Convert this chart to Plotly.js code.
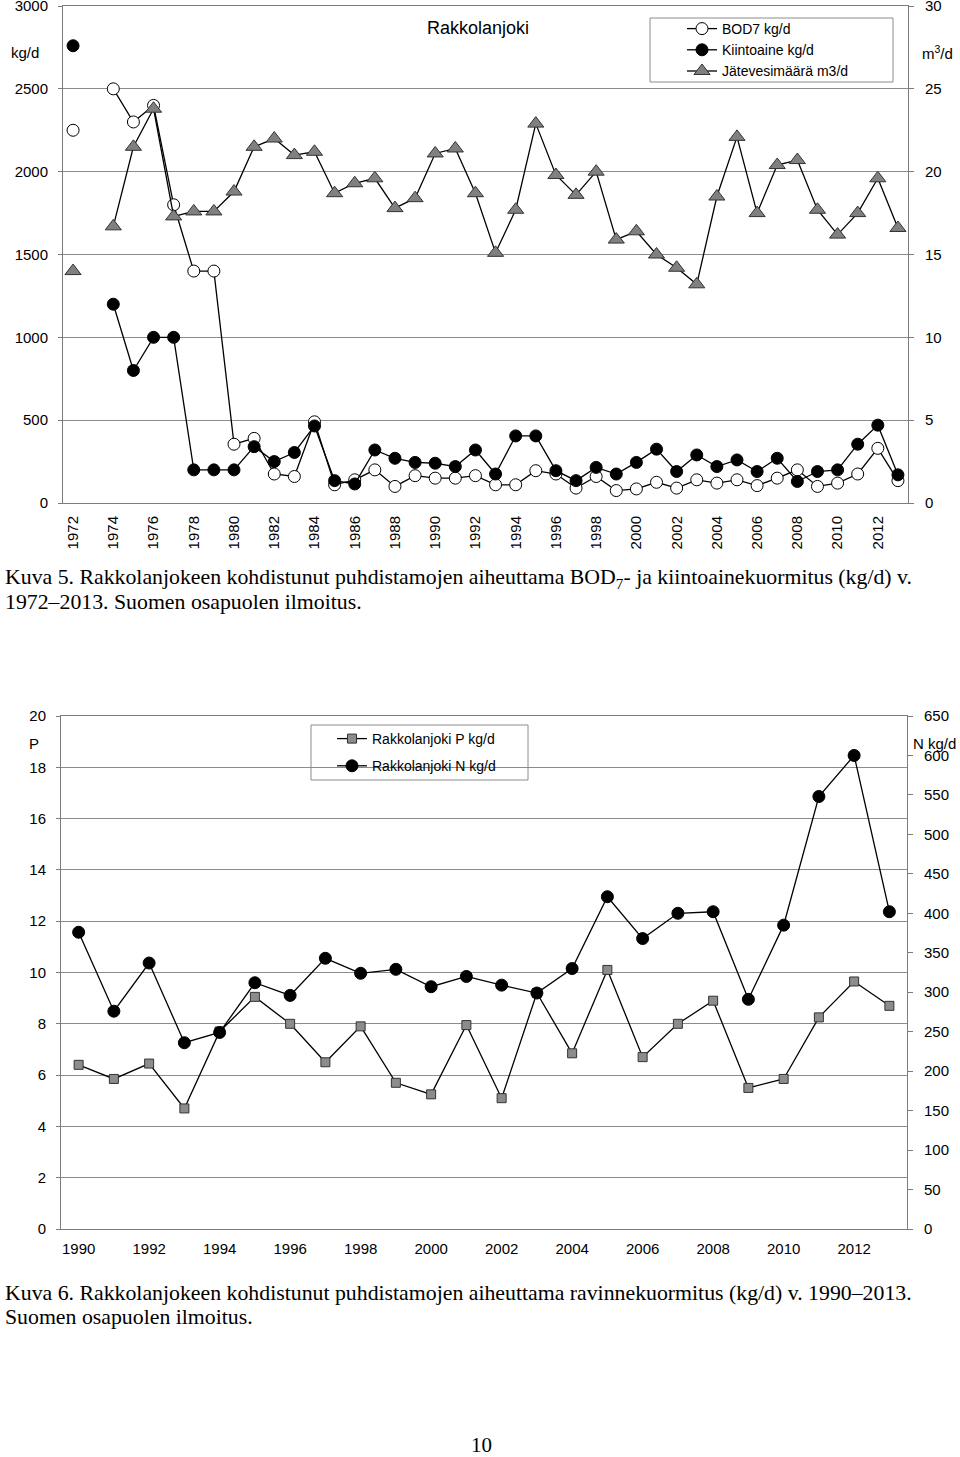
<!DOCTYPE html>
<html><head><meta charset="utf-8">
<script src="https://cdn.plot.ly/plotly-3.0.1.min.js"></script>
<style>html,body{margin:0;padding:0;background:#fff;} #chart{width:960px;height:1457px;}</style>
</head><body><div id="chart"></div>
<script>
// ---------- Data: chart 1 (Kuva 5) ----------
const years1 = [1972,1973,1974,1975,1976,1977,1978,1979,1980,1981,1982,1983,1984,1985,1986,1987,1988,1989,1990,1991,1992,1993,1994,1995,1996,1997,1998,1999,2000,2001,2002,2003,2004,2005,2006,2007,2008,2009,2010,2011,2012,2013];
const bod7 = [2250,null,2500,2300,2400,1800,1400,1400,355,390,175,160,490,110,140,200,100,165,150,150,165,110,110,195,175,90,160,75,85,125,90,140,120,140,105,150,200,100,120,175,330,135];
const kiintoaine = [2760,null,1200,800,1000,1000,200,200,200,340,250,305,465,135,115,320,270,245,240,220,320,175,405,405,195,135,215,175,245,325,190,290,220,260,190,270,130,190,200,355,470,170];
const jatevesi = [14.0,null,16.7,21.5,23.8,17.3,17.6,17.6,18.8,21.5,22.0,21.0,21.2,18.7,19.3,19.6,17.8,18.4,21.1,21.4,18.7,15.1,17.7,22.9,19.8,18.6,20.0,15.9,16.4,15.0,14.2,13.2,18.5,22.1,17.5,20.4,20.7,17.7,16.2,17.5,19.6,16.6];
const names1 = ['BOD7 kg/d','Kiintoaine kg/d','Jätevesimäärä m3/d'];
const leftTicks1 = [0,500,1000,1500,2000,2500,3000];
const rightTicks1 = [0,5,10,15,20,25,30];

// ---------- Data: chart 2 (Kuva 6) ----------
const years2 = [1990,1991,1992,1993,1994,1995,1996,1997,1998,1999,2000,2001,2002,2003,2004,2005,2006,2007,2008,2009,2010,2011,2012,2013];
const fosfori = [6.4,5.85,6.45,4.7,7.7,9.05,8.0,6.5,7.9,5.7,5.25,7.95,5.1,9.2,6.85,10.1,6.7,8.0,8.9,5.5,5.85,8.25,9.65,8.7];
const typpi = [376,276,337,236,249,312,296,343,324,329,307,320,309,299,330,421,368,400,402,291,385,548,600,402];
const names2 = ['Rakkolanjoki P kg/d','Rakkolanjoki N kg/d'];
const leftTicks2 = [0,2,4,6,8,10,12,14,16,18,20];
const rightTicks2 = [0,50,100,150,200,250,300,350,400,450,500,550,600,650];

// ---------- helpers ----------
const W = 960, H = 1457;
const px = x => x / W;
const py = y => 1 - y / H;
const SANS = 'Liberation Sans, Arial, sans-serif';
const SERIF = 'Liberation Serif, Times New Roman, serif';
const gridColor = '#8c8c8c', axisColor = '#7c7c7c';
const tickFont = {family: SANS, size: 15, color: '#000'};
const capFont = {family: SERIF, size: 21.8, color: '#000'};

const bounds = ys => ys.map(y => y - 0.5).concat([ys[ys.length - 1] + 0.5]);
const everyOther = ys => ys.filter(y => (y - ys[0]) % 2 === 0);

const labels1 = everyOther(years1).filter(y => y <= 2012);
const labels2 = everyOther(years2).filter(y => y <= 2012);

const d1x = [px(63), px(908)], d1y = [py(503), py(6)];
const d2x = [px(61), px(907)], d2y = [py(1229), py(716)];

const lineStyle = {color: '#000', width: 1.3};

const traces = [
  {x: years1, y: bod7, name: names1[0], type: 'scatter', mode: 'lines+markers', xaxis: 'x', yaxis: 'y',
   line: lineStyle, marker: {symbol: 'circle', size: 12, color: '#fff', line: {color: '#000', width: 1}},
   connectgaps: false, legend: 'legend'},
  {x: years1, y: kiintoaine, name: names1[1], type: 'scatter', mode: 'lines+markers', xaxis: 'x', yaxis: 'y',
   line: lineStyle, marker: {symbol: 'circle', size: 12, color: '#000', line: {color: '#000', width: 1}},
   connectgaps: false, legend: 'legend'},
  {x: years1, y: jatevesi, name: names1[2], type: 'scatter', mode: 'lines+markers', xaxis: 'x', yaxis: 'y2',
   line: lineStyle, marker: {symbol: 'triangle-up', size: 14, color: '#808080', line: {color: '#333', width: 1}},
   connectgaps: false, legend: 'legend'},
  {x: years2, y: fosfori, name: names2[0], type: 'scatter', mode: 'lines+markers', xaxis: 'x2', yaxis: 'y3',
   line: lineStyle, marker: {symbol: 'square', size: 9, color: '#8c8c8c', line: {color: '#333', width: 1}},
   legend: 'legend2', legendgroup: 'p'},
  {x: years2, y: typpi, name: names2[1], type: 'scatter', mode: 'lines+markers', xaxis: 'x2', yaxis: 'y4',
   line: lineStyle, marker: {symbol: 'circle', size: 12, color: '#000', line: {color: '#000', width: 1}},
   legend: 'legend2', legendgroup: 'n'}
];

const baseX = {showgrid: false, zeroline: false, fixedrange: true};
const tickAxis = (over, anchor, range, vals, dir) => Object.assign({}, baseX, {
  overlaying: over, anchor: anchor, range: range, tickmode: 'array', tickvals: vals,
  ticks: dir, ticklen: 4, tickcolor: axisColor, tickwidth: 1, showticklabels: false, showline: false
});

const r1 = [years1[0] - 0.5, years1[years1.length - 1] + 0.5];
const r2 = [years2[0] - 0.5, years2[years2.length - 1] + 0.5];

const layout = {
  width: W, height: H, margin: {l: 0, r: 0, t: 0, b: 0},
  paper_bgcolor: '#fff', plot_bgcolor: 'rgba(0,0,0,0)',
  font: {family: SANS, color: '#000'},
  showlegend: true,
  xaxis: Object.assign({}, baseX, {domain: d1x, anchor: 'y', range: r1, tickmode: 'array',
    tickvals: labels1, ticktext: labels1.map(String), tickangle: -90, ticks: '', tickfont: tickFont,
    ticklabelstandoff: 6, showline: true, linecolor: axisColor, linewidth: 1, mirror: true}),
  xaxis3: tickAxis('x', 'y', r1, bounds(years1), 'outside'),
  xaxis4: tickAxis('x', 'y', r1, bounds(years1), 'inside'),
  yaxis: {domain: d1y, anchor: 'x', range: [0, 3000], tickmode: 'array', tickvals: leftTicks1,
    showgrid: true, gridcolor: gridColor, gridwidth: 1, zeroline: false, showline: true, linecolor: axisColor,
    ticks: 'outside', ticklen: 4, tickcolor: axisColor, tickfont: tickFont, ticklabelstandoff: 7,
    ticklabeloverflow: 'allow', fixedrange: true},
  yaxis2: {overlaying: 'y', side: 'right', anchor: 'x', range: [0, 30], tickmode: 'array', tickvals: rightTicks1,
    showgrid: false, zeroline: false, showline: true, linecolor: axisColor, ticks: 'outside', ticklen: 5,
    tickcolor: axisColor, tickfont: tickFont, ticklabelstandoff: 8, ticklabeloverflow: 'allow', fixedrange: true},

  xaxis2: Object.assign({}, baseX, {domain: d2x, anchor: 'y3', range: r2, tickmode: 'array',
    tickvals: labels2, ticktext: labels2.map(String), ticks: '', tickfont: tickFont,
    ticklabelstandoff: 6, showline: true, linecolor: axisColor, linewidth: 1, mirror: true}),
  xaxis5: tickAxis('x2', 'y3', r2, bounds(years2), 'outside'),
  xaxis6: tickAxis('x2', 'y3', r2, bounds(years2), 'inside'),
  yaxis3: {domain: d2y, anchor: 'x2', range: [0, 20], tickmode: 'array', tickvals: leftTicks2,
    showgrid: true, gridcolor: gridColor, gridwidth: 1, zeroline: false, showline: true, linecolor: axisColor,
    ticks: 'outside', ticklen: 4, tickcolor: axisColor, tickfont: tickFont, ticklabelstandoff: 7,
    ticklabeloverflow: 'allow', fixedrange: true},
  yaxis4: {overlaying: 'y3', side: 'right', anchor: 'x2', range: [0, 650], tickmode: 'array', tickvals: rightTicks2,
    showgrid: false, zeroline: false, showline: true, linecolor: axisColor, ticks: 'outside', ticklen: 5,
    tickcolor: axisColor, tickfont: tickFont, ticklabelstandoff: 8, ticklabeloverflow: 'allow', fixedrange: true},

  legend: {x: px(682), y: py(13), xanchor: 'left', yanchor: 'top', bgcolor: 'rgba(0,0,0,0)', borderwidth: 0,
    font: {family: SANS, size: 14, color: '#000'}},
  legend2: {x: px(332), y: py(723), xanchor: 'left', yanchor: 'top', bgcolor: 'rgba(0,0,0,0)', borderwidth: 0,
    tracegroupgap: 6, font: {family: SANS, size: 14, color: '#000'}},

  shapes: [
    {type: 'rect', xref: 'paper', yref: 'paper', x0: px(650), x1: px(893), y0: py(82), y1: py(18),
     line: {color: '#8c8c8c', width: 1}, fillcolor: 'rgba(0,0,0,0)'},
    {type: 'rect', xref: 'paper', yref: 'paper', x0: px(311), x1: px(528), y0: py(780), y1: py(725),
     line: {color: '#8c8c8c', width: 1}, fillcolor: 'rgba(0,0,0,0)'}
  ],

  annotations: [
    {text: 'Rakkolanjoki', x: px(478), y: py(28), xref: 'paper', yref: 'paper', showarrow: false,
     xanchor: 'center', yanchor: 'middle', font: {family: SANS, size: 18, color: '#000'}},
    {text: 'kg/d', x: px(9), y: py(53), xref: 'paper', yref: 'paper', showarrow: false,
     xanchor: 'left', yanchor: 'middle', font: {family: SANS, size: 15, color: '#000'}},
    {text: 'm<sup>3</sup>/d', x: px(920), y: py(53), xref: 'paper', yref: 'paper', showarrow: false,
     xanchor: 'left', yanchor: 'middle', font: {family: SANS, size: 15, color: '#000'}},
    {text: 'P', x: px(27), y: py(743), xref: 'paper', yref: 'paper', showarrow: false,
     xanchor: 'left', yanchor: 'middle', font: {family: SANS, size: 15, color: '#000'}},
    {text: 'N kg/d', x: px(911), y: py(743), xref: 'paper', yref: 'paper', showarrow: false,
     xanchor: 'left', yanchor: 'middle', font: {family: SANS, size: 15, color: '#000'}},
    {text: 'Kuva 5. Rakkolanjokeen kohdistunut puhdistamojen aiheuttama BOD<sub>7</sub>- ja kiintoainekuormitus (kg/d) v.',
     x: px(3), y: py(578), xref: 'paper', yref: 'paper', showarrow: false, xanchor: 'left', yanchor: 'middle',
     font: capFont},
    {text: '1972–2013. Suomen osapuolen ilmoitus.', x: px(3), y: py(602), xref: 'paper', yref: 'paper',
     showarrow: false, xanchor: 'left', yanchor: 'middle', font: capFont},
    {text: 'Kuva 6. Rakkolanjokeen kohdistunut puhdistamojen aiheuttama ravinnekuormitus (kg/d) v. 1990–2013.',
     x: px(3), y: py(1293), xref: 'paper', yref: 'paper', showarrow: false, xanchor: 'left', yanchor: 'middle',
     font: capFont},
    {text: 'Suomen osapuolen ilmoitus.', x: px(3), y: py(1317), xref: 'paper', yref: 'paper',
     showarrow: false, xanchor: 'left', yanchor: 'middle', font: capFont},
    {text: '10', x: px(481), y: py(1445), xref: 'paper', yref: 'paper', showarrow: false,
     xanchor: 'center', yanchor: 'middle', font: {family: SERIF, size: 21, color: '#000'}}
  ]
};

Plotly.newPlot('chart', traces, layout, {displayModeBar: false, staticPlot: true});
</script>
</body></html>
